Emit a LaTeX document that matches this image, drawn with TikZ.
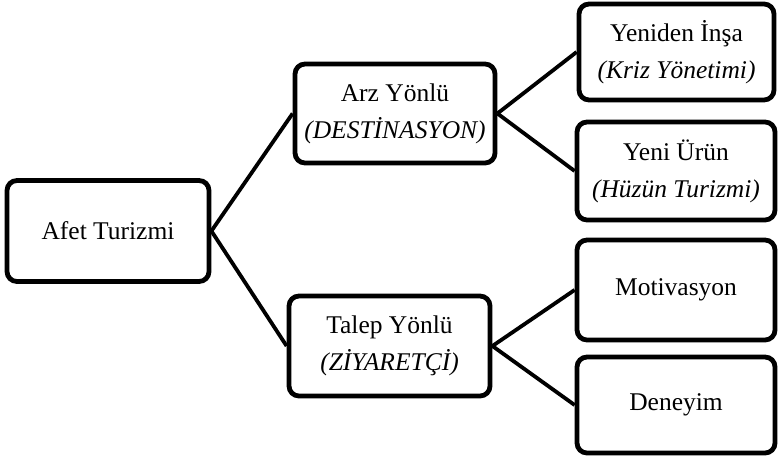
\documentclass[tikz,border=0pt]{standalone}
\usepackage{fontspec}
\setmainfont{Liberation Serif}
\tikzset{
  box/.style={draw=black, line width=4.8pt, rounded corners=10pt, fill=white,
    inner sep=0pt, align=center, font=\fontsize{25.5}{37}\selectfont},
  link/.style={draw=black, line width=3.8pt}
}
\begin{document}
\begin{tikzpicture}[x=1pt,y=-1pt]
  \useasboundingbox (0,0) rectangle (778,460);
  % root
  \node[box, minimum width=202pt, minimum height=101pt] (afet) at (108,231) {Afet Turizmi};
  % second level
  \node[box, minimum width=200pt, minimum height=99pt] (arz) at (395,113.5)
    {Arz Yönlü\\\textit{(DESTİNASYON)}};
  \node[box, minimum width=201pt, minimum height=100pt] (talep) at (389.5,346)
    {Talep Yönlü\\\textit{(ZİYARETÇİ)}};
  % third level
  \node[box, minimum width=195pt, minimum height=96pt] (insa) at (676.5,52)
    {Yeniden İnşa\\\textit{(Kriz Yönetimi)}};
  \node[box, minimum width=198pt, minimum height=98pt] (urun) at (676,171)
    {Yeni Ürün\\\textit{(Hüzün Turizmi)}};
  \node[box, minimum width=198pt, minimum height=100pt] (motiv) at (676,290) {Motivasyon};
  \node[box, minimum width=198pt, minimum height=96pt] (deney) at (676,405) {Deneyim};
  % connectors
  \draw[link] (afet.east) -- (arz.west);
  \draw[link] (afet.east) -- (talep.west);
  \draw[link] (arz.east) -- (insa.west);
  \draw[link] (arz.east) -- (urun.west);
  \draw[link] (talep.east) -- (motiv.west);
  \draw[link] (talep.east) -- (deney.west);
\end{tikzpicture}
\end{document}
